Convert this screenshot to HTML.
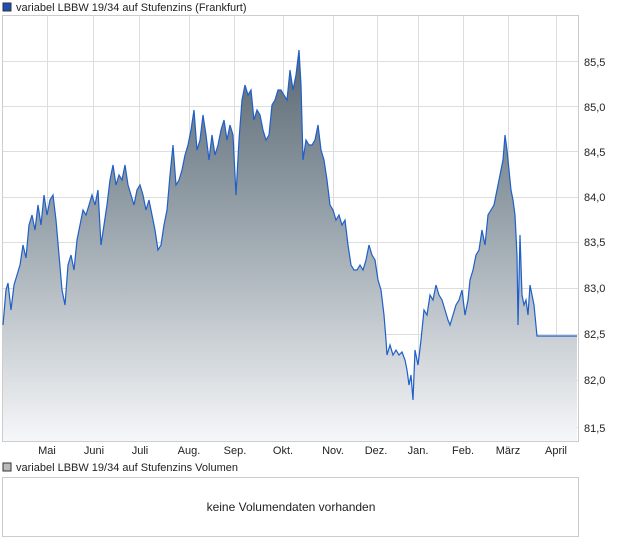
<!DOCTYPE html>
<html><head><meta charset="utf-8"><style>
body{margin:0;background:#fff;font-family:"Liberation Sans",sans-serif;}
svg text{font-family:"Liberation Sans",sans-serif;}
</style></head><body>
<svg width="620" height="546" xmlns="http://www.w3.org/2000/svg">
<defs><linearGradient id="g" gradientUnits="userSpaceOnUse" x1="0" y1="50" x2="0" y2="441">
<stop offset="0" stop-color="#5a6873"/><stop offset="0.45" stop-color="#9aa5ad"/><stop offset="1" stop-color="#f6f7f9"/></linearGradient></defs>
<rect x="3" y="3" width="8" height="8" fill="#1f4fb0" stroke="#333" stroke-width="1"/>
<text x="16" y="11" font-size="11" fill="#222">variabel LBBW 19/34 auf Stufenzins (Frankfurt)</text>
<rect x="2.5" y="15.5" width="576" height="426" fill="#fff" stroke="#ccc"/>
<g stroke="#ddd" stroke-width="1">
<line x1="47.5" y1="16" x2="47.5" y2="441"/><line x1="93.5" y1="16" x2="93.5" y2="441"/><line x1="139.5" y1="16" x2="139.5" y2="441"/><line x1="189.5" y1="16" x2="189.5" y2="441"/><line x1="234.5" y1="16" x2="234.5" y2="441"/><line x1="283.5" y1="16" x2="283.5" y2="441"/><line x1="333.5" y1="16" x2="333.5" y2="441"/><line x1="377.5" y1="16" x2="377.5" y2="441"/><line x1="418.5" y1="16" x2="418.5" y2="441"/><line x1="463.5" y1="16" x2="463.5" y2="441"/><line x1="508.5" y1="16" x2="508.5" y2="441"/><line x1="556.5" y1="16" x2="556.5" y2="441"/>
<line x1="3" y1="61.5" x2="578" y2="61.5"/><line x1="3" y1="106.5" x2="578" y2="106.5"/><line x1="3" y1="151.5" x2="578" y2="151.5"/><line x1="3" y1="197.5" x2="578" y2="197.5"/><line x1="3" y1="242.5" x2="578" y2="242.5"/><line x1="3" y1="288.5" x2="578" y2="288.5"/><line x1="3" y1="334.5" x2="578" y2="334.5"/><line x1="3" y1="380.5" x2="578" y2="380.5"/><line x1="3" y1="427.5" x2="578" y2="427.5"/>
</g>
<path id="d" d="M3,325 L6,290 8,283 11,310 14,285 17,275 20,265 23,245 26,258 29,225 32,215 35,230 38,205 41,225 44,195 47,215 50,200 53,195 56,220 59,255 62,290 65,305 68,265 71,255 74,270 77,240 80,225 83,210 86,215 89,205 92,195 95,205 98,190 101,245 104,225 107,205 110,180 113,165 116,185 119,175 122,180 125,165 128,185 131,195 134,205 137,190 140,185 143,195 146,210 149,200 152,215 155,230 158,250 161,245 164,225 167,210 170,175 173,145 176,185 179,180 182,170 185,155 188,145 191,130 194,110 197,150 200,140 203,115 206,135 209,160 212,135 215,155 218,145 221,130 224,120 227,140 230,125 233,135 236,195 239,140 242,100 245,85 248,95 251,90 254,120 257,110 260,115 263,130 266,140 269,135 272,105 275,100 278,90 281,90 284,95 287,100 290,70 293,90 296,75 299,50 301,85 303,160 306,140 309,145 312,145 315,140 318,125 321,150 324,160 327,180 330,205 333,210 336,220 339,215 342,225 345,220 348,245 351,265 354,270 357,270 360,265 363,270 366,260 369,245 372,255 375,260 378,280 381,290 384,315 386,340 387,355 390,345 393,355 396,350 399,355 402,352 405,360 407,370 409,385 411,375 413,400 415,350 418,365 421,340 424,310 427,315 430,295 433,300 436,285 439,295 442,300 445,310 448,320 450,325 453,315 456,305 459,300 462,290 465,315 468,300 470,280 473,270 476,255 479,250 482,230 485,245 488,215 491,210 494,205 497,190 500,175 503,160 505,135 507,150 509,170 511,190 513,200 515,215 517,255 518,325 520,235 522,295 524,305 526,300 528,315 530,285 532,295 534,305 537,336 577,336" fill="none"/>
<path d="M3,441 L3,325 L6,290 8,283 11,310 14,285 17,275 20,265 23,245 26,258 29,225 32,215 35,230 38,205 41,225 44,195 47,215 50,200 53,195 56,220 59,255 62,290 65,305 68,265 71,255 74,270 77,240 80,225 83,210 86,215 89,205 92,195 95,205 98,190 101,245 104,225 107,205 110,180 113,165 116,185 119,175 122,180 125,165 128,185 131,195 134,205 137,190 140,185 143,195 146,210 149,200 152,215 155,230 158,250 161,245 164,225 167,210 170,175 173,145 176,185 179,180 182,170 185,155 188,145 191,130 194,110 197,150 200,140 203,115 206,135 209,160 212,135 215,155 218,145 221,130 224,120 227,140 230,125 233,135 236,195 239,140 242,100 245,85 248,95 251,90 254,120 257,110 260,115 263,130 266,140 269,135 272,105 275,100 278,90 281,90 284,95 287,100 290,70 293,90 296,75 299,50 301,85 303,160 306,140 309,145 312,145 315,140 318,125 321,150 324,160 327,180 330,205 333,210 336,220 339,215 342,225 345,220 348,245 351,265 354,270 357,270 360,265 363,270 366,260 369,245 372,255 375,260 378,280 381,290 384,315 386,340 387,355 390,345 393,355 396,350 399,355 402,352 405,360 407,370 409,385 411,375 413,400 415,350 418,365 421,340 424,310 427,315 430,295 433,300 436,285 439,295 442,300 445,310 448,320 450,325 453,315 456,305 459,300 462,290 465,315 468,300 470,280 473,270 476,255 479,250 482,230 485,245 488,215 491,210 494,205 497,190 500,175 503,160 505,135 507,150 509,170 511,190 513,200 515,215 517,255 518,325 520,235 522,295 524,305 526,300 528,315 530,285 532,295 534,305 537,336 577,336 L577,441 Z" fill="url(#g)"/>
<use href="#d" stroke="#1f5fc8" stroke-width="1.2"/>
<g font-size="11" fill="#222">
<text x="584" y="66">85,5</text><text x="584" y="111">85,0</text><text x="584" y="156">84,5</text><text x="584" y="201">84,0</text><text x="584" y="246">83,5</text><text x="584" y="292">83,0</text><text x="584" y="338">82,5</text><text x="584" y="384">82,0</text><text x="584" y="432">81,5</text>
</g>
<g font-size="11" fill="#222" text-anchor="middle">
<text x="47" y="454">Mai</text><text x="94" y="454">Juni</text><text x="140" y="454">Juli</text><text x="189" y="454">Aug.</text><text x="235" y="454">Sep.</text><text x="283" y="454">Okt.</text><text x="333" y="454">Nov.</text><text x="376" y="454">Dez.</text><text x="418" y="454">Jan.</text><text x="463" y="454">Feb.</text><text x="508" y="454">März</text><text x="556" y="454">April</text>
</g>
<rect x="3" y="463" width="8" height="8" fill="#bbb" stroke="#333" stroke-width="1"/>
<text x="16" y="471" font-size="11" fill="#222">variabel LBBW 19/34 auf Stufenzins Volumen</text>
<rect x="2.5" y="477.5" width="576" height="59" fill="#fff" stroke="#ccc"/>
<text x="291" y="511" font-size="12" fill="#222" text-anchor="middle">keine Volumendaten vorhanden</text>
</svg>
</body></html>
